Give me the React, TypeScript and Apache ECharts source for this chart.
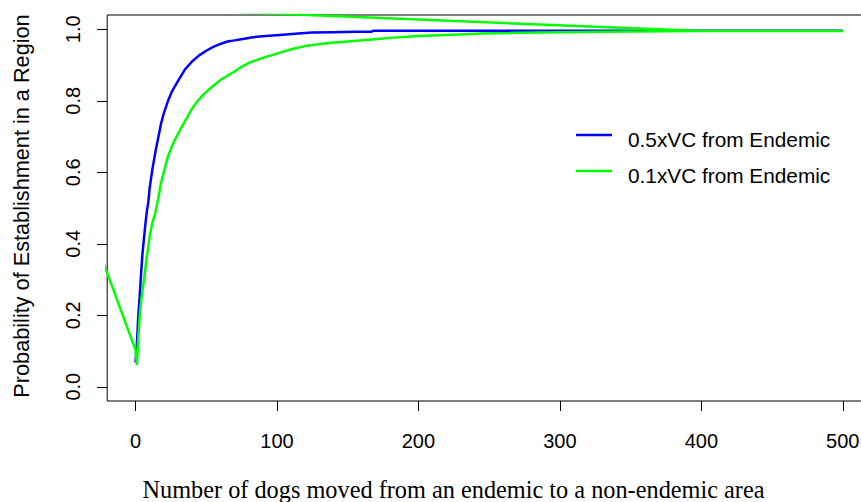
import React, { useEffect, useRef } from "react";
import * as echarts from "echarts";

// Tick values
const xTicks = [0, 100, 200, 300, 400, 500];
const yTicks = [0, 0.2, 0.4, 0.6, 0.8, 1.0];

// 0.5xVC from Endemic (blue)
const blueX = [0, 1, 2, 3, 4, 5, 6, 7, 8, 9, 10, 12, 14, 16, 18, 20, 23, 26, 30, 35, 40, 45, 50, 55, 60, 65, 70, 76, 83, 92, 102, 115, 125, 140, 155, 167, 168, 250, 350, 450, 500];
const blueY = [0.068, 0.12, 0.2, 0.255, 0.32, 0.375, 0.415, 0.455, 0.49, 0.515, 0.555, 0.61, 0.655, 0.695, 0.735, 0.765, 0.8, 0.828, 0.855, 0.888, 0.91, 0.927, 0.94, 0.951, 0.959, 0.966, 0.969, 0.973, 0.978, 0.981, 0.984, 0.988, 0.991, 0.992, 0.993, 0.993, 0.996, 0.996, 0.996, 0.996, 0.996];

// 0.1xVC from Endemic (green) - includes the stray points as drawn in the source plot
const greenX = [400, -90, 0, 1, 2, 3, 4, 5, 6, 7, 8, 9, 10, 12, 14, 16, 18, 20, 23, 26, 29, 32, 36, 40, 44, 48, 52, 56, 60, 65, 70, 75, 80, 90, 100, 110, 120, 135, 150, 165, 180, 200, 220, 245, 270, 300, 350, 400, 450, 500];
const greenY = [0.995, 1.074, 0.103, 0.06, 0.14, 0.2, 0.24, 0.27, 0.3, 0.33, 0.365, 0.39, 0.42, 0.46, 0.485, 0.525, 0.57, 0.6, 0.645, 0.675, 0.7, 0.722, 0.75, 0.778, 0.8, 0.817, 0.832, 0.845, 0.858, 0.87, 0.882, 0.895, 0.906, 0.92, 0.932, 0.944, 0.953, 0.961, 0.966, 0.971, 0.976, 0.981, 0.984, 0.988, 0.99, 0.9915, 0.994, 0.995, 0.995, 0.995];

const seriesNames = ["0.5xVC from Endemic", "0.1xVC from Endemic"];
const seriesColors = ["#0000FF", "#00FF00"];

const X_MIN = -20;
const X_MAX = 520;
const Y_MIN = -0.04;
const Y_MAX = 1.04;
const TICK_LEN = 10;

const SANS = "'Liberation Sans', Arial, Helvetica, sans-serif";
const SERIF = "'Liberation Serif', 'Times New Roman', serif";

export default function App() {
  const ref = useRef<HTMLDivElement>(null);
  useEffect(() => {
    if (!ref.current) return;
    const chart = echarts.init(ref.current, null, { renderer: "svg" });
    const blue = blueX.map((x, i) => [x, blueY[i]]);
    const green = greenX.map((x, i) => [x, greenY[i]]);
    const baseGraphics: any[] = [
      {
        type: "text",
        x: 21.5,
        y: 206,
        rotation: Math.PI / 2,
        style: {
          text: "Probability of Establishment in a Region",
          fontSize: 21.7,
          fontFamily: SANS,
          fill: "#000",
          align: "center",
          verticalAlign: "middle",
        },
      },
      {
        type: "text",
        x: 453.5,
        y: 489,
        style: {
          text: "Number of dogs moved from an endemic to a non-endemic area",
          fontSize: 24.3,
          fontFamily: SERIF,
          fill: "#000",
          align: "center",
          verticalAlign: "middle",
        },
      },
      {
        type: "line",
        shape: { x1: 576, y1: 135, x2: 612, y2: 135 },
        style: { stroke: seriesColors[0], lineWidth: 2.5 },
      },
      {
        type: "line",
        shape: { x1: 576, y1: 171, x2: 612, y2: 171 },
        style: { stroke: seriesColors[1], lineWidth: 2.5 },
      },
      {
        type: "text",
        x: 628,
        y: 139,
        style: {
          text: seriesNames[0],
          fontSize: 20.8,
          fontFamily: SANS,
          fill: "#000",
          align: "left",
          verticalAlign: "middle",
        },
      },
      {
        type: "text",
        x: 628,
        y: 175,
        style: {
          text: seriesNames[1],
          fontSize: 20.8,
          fontFamily: SANS,
          fill: "#000",
          align: "left",
          verticalAlign: "middle",
        },
      },
    ];
    chart.setOption({
      animation: false,
      backgroundColor: "#ffffff",
      grid: {
        left: 107.2,
        width: 763.9,
        top: 15,
        height: 386,
        containLabel: false,
        outerBoundsMode: "none",
        show: true,
        borderColor: "#000",
        borderWidth: 1,
        backgroundColor: "transparent",
      },
      xAxis: {
        type: "value",
        min: X_MIN,
        max: X_MAX,
        axisLine: { show: false, onZero: false },
        splitLine: { show: false },
        axisTick: { show: false },
        axisLabel: {
          show: true,
          customValues: xTicks,
          margin: 30,
          color: "#000",
          fontSize: 20,
          fontFamily: SANS,
          formatter: (v: number) => String(v),
        },
      },
      yAxis: {
        type: "value",
        min: Y_MIN,
        max: Y_MAX,
        axisLine: { show: false, onZero: false },
        splitLine: { show: false },
        axisTick: { show: false },
        axisLabel: {
          show: true,
          customValues: yTicks,
          rotate: 90,
          margin: 24,
          color: "#000",
          fontSize: 20,
          fontFamily: SANS,
          formatter: (v: number) => v.toFixed(1),
        },
      },
      series: [
        {
          name: seriesNames[0],
          type: "line",
          data: blue,
          showSymbol: false,
          symbol: "none",
          clip: true,
          lineStyle: { color: seriesColors[0], width: 2.5 },
        },
        {
          name: seriesNames[1],
          type: "line",
          data: green,
          showSymbol: false,
          symbol: "none",
          clip: true,
          lineStyle: { color: seriesColors[1], width: 2.5 },
        },
      ],
      graphic: baseGraphics,
    });

    // Tick marks placed through the chart's own scales
    const tickGraphics: any[] = [];
    xTicks.forEach((v) => {
      const p = chart.convertToPixel({ gridIndex: 0 }, [v, Y_MIN]) as number[];
      const x = Math.round(p[0]) + 0.5;
      const y = Math.round(p[1]);
      tickGraphics.push({
        type: "line",
        shape: { x1: x, y1: y, x2: x, y2: y + TICK_LEN },
        style: { stroke: "#000", lineWidth: 1 },
      });
    });
    yTicks.forEach((v) => {
      const p = chart.convertToPixel({ gridIndex: 0 }, [X_MIN, v]) as number[];
      const x = Math.round(p[0]);
      const y = Math.round(p[1]) + 0.5;
      tickGraphics.push({
        type: "line",
        shape: { x1: x - TICK_LEN, y1: y, x2: x, y2: y },
        style: { stroke: "#000", lineWidth: 1 },
      });
    });
    chart.setOption({ graphic: baseGraphics.concat(tickGraphics) });

    return () => chart.dispose();
  }, []);
  return (
    <div
      ref={ref}
      style={{ position: "absolute", left: 0, top: 0, width: 861, height: 502 }}
    />
  );
}
